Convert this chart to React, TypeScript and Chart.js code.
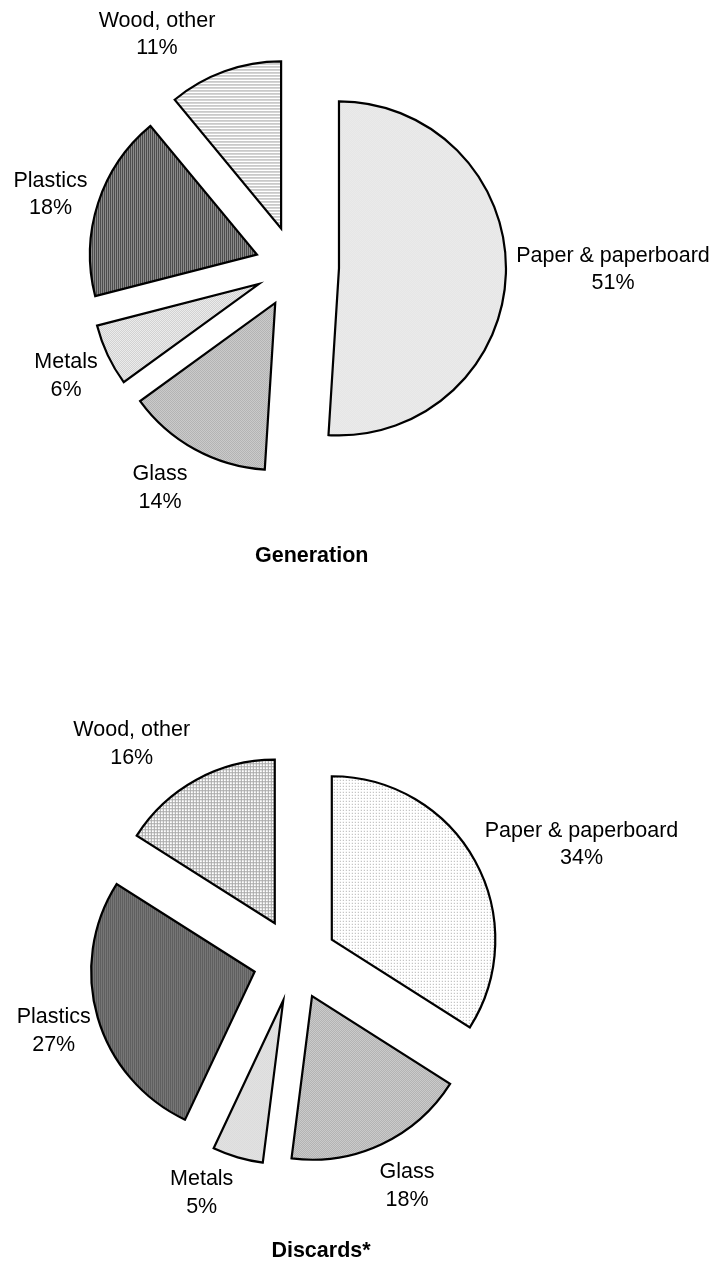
import React, { useEffect, useRef } from "react";
import { Chart, registerables } from "chart.js";

Chart.register(...registerables);

// ---------------- data ----------------
const CATEGORIES = ["Paper & paperboard", "Glass", "Metals", "Plastics", "Wood, other"];
const GENERATION = [51, 14, 6, 18, 11];
const DISCARDS = [34, 18, 5, 27, 16];
const TITLES = ["Generation", "Discards*"];

// ---------------- layout / style ----------------
const FONT = '"Liberation Sans", Arial, Helvetica, sans-serif';
const FONT_SIZE = 21.5;
const LINE_H = 27.5;

type PieLayout = {
  top: number;
  height: number;
  radius: number;
  padding: { left: number; right: number; top: number; bottom: number };
  explode: number[]; // px the slice is pulled out
  labelOffsets: number[][]; // label (center x, first baseline) relative to pie centre
  titleOffset: number[];
  patterns: string[];
};

const TOP_LAYOUT: PieLayout = {
  top: 0,
  height: 620,
  radius: 167,
  padding: { left: 0, right: 128, top: 0, bottom: 86 },
  explode: [44, 41, 40, 40, 41],
  labelOffsets: [
    [318, -5.3],
    [-135, 213],
    [-229, 101],
    [-244.5, -80.3],
    [-138, -240.3],
  ],
  titleOffset: [16.7, 294.7],
  patterns: ["paperA", "glass", "metals", "plastics", "woodA"],
};

const BOTTOM_LAYOUT: PieLayout = {
  top: 620,
  height: 648,
  radius: 163.5,
  padding: { left: 0, right: 128, top: 32, bottom: 0 },
  explode: [42, 40, 42, 42, 42],
  labelOffsets: [
    [286.5, -123.3],
    [112, 218.3],
    [-93.3, 225],
    [-241.3, 63],
    [-163.3, -224],
  ],
  titleOffset: [26, 297],
  patterns: ["paperB", "glass", "metals", "plastics", "woodB"],
};

function makePattern(size: number, bg: string, paint: (g: CanvasRenderingContext2D) => void) {
  const c = document.createElement("canvas");
  c.width = size;
  c.height = size;
  const g = c.getContext("2d")!;
  g.fillStyle = bg;
  g.fillRect(0, 0, size, size);
  paint(g);
  return g.createPattern(c, "repeat")!;
}

function buildPatterns(): Record<string, CanvasPattern> {
  const checker = (a: string, b: string) =>
    makePattern(2, a, (g) => {
      g.fillStyle = b;
      g.fillRect(0, 0, 1, 1);
      g.fillRect(1, 1, 1, 1);
    });
  return {
    paperA: checker("#fbfbfb", "#d6d6d6"),
    paperB: makePattern(3, "#ffffff", (g) => {
      g.fillStyle = "#a8a8a8";
      g.fillRect(0, 0, 1, 1);
    }),
    glass: checker("#dadada", "#a4a4a4"),
    metals: checker("#f6f6f6", "#c8c8c8"),
    plastics: makePattern(2, "#8a8a8a", (g) => {
      g.fillStyle = "#4c4c4c";
      g.fillRect(0, 0, 1, 2);
    }),
    woodA: makePattern(3, "#ffffff", (g) => {
      g.fillStyle = "#a0a0a0";
      g.fillRect(0, 0, 3, 1);
    }),
    woodB: makePattern(3, "#ffffff", (g) => {
      g.fillStyle = "#a8a8a8";
      g.fillRect(0, 0, 3, 1);
      g.fillRect(0, 0, 1, 3);
    }),
  };
}

function PieChart({ values, title, layout }: { values: number[]; title: string; layout: PieLayout }) {
  const ref = useRef<HTMLCanvasElement | null>(null);

  useEffect(() => {
    if (!ref.current) return;
    const pats = buildPatterns();
    const R = layout.radius;

    // Chart.js enlarges and narrows exploded arcs; bring them back to the true radius.
    const explodeFix = {
      id: "explodeFix",
      afterDatasetUpdate(chart: any, args: any) {
        const meta = chart.getDatasetMeta(args.index);
        meta.data.forEach((el: any) => {
          const off = (el.options.offset || 0) / 4;
          const fix = 1 - Math.sin(Math.min(Math.PI, el.circumference || 0));
          const k = off * fix;
          el.outerRadius = R - k;
          const d = k / (2 * Math.PI * R);
          el.startAngle -= d;
          el.endAngle += d;
        });
      },
    };

    const labelPlugin = {
      id: "sliceLabels",
      afterDraw(chart: any) {
        const ctx = chart.ctx as CanvasRenderingContext2D;
        const meta = chart.getDatasetMeta(0);
        const cx = meta.data[0].x;
        const cy = meta.data[0].y;
        ctx.save();
        ctx.fillStyle = "#000";
        ctx.textAlign = "center";
        ctx.textBaseline = "alphabetic";
        ctx.font = `${FONT_SIZE}px ${FONT}`;
        meta.data.forEach((_el: any, i: number) => {
          const [dx, dy] = layout.labelOffsets[i];
          ctx.fillText(CATEGORIES[i], cx + dx, cy + dy);
          ctx.fillText(`${values[i]}%`, cx + dx, cy + dy + LINE_H);
        });
        ctx.font = `bold ${FONT_SIZE}px ${FONT}`;
        ctx.fillText(title, cx + layout.titleOffset[0], cy + layout.titleOffset[1]);
        ctx.restore();
      },
    };

    const chart = new Chart(ref.current, {
      type: "pie",
      data: {
        labels: CATEGORIES,
        datasets: [
          {
            data: values,
            backgroundColor: layout.patterns.map((p) => pats[p]),
            borderColor: "#000000",
            borderWidth: 2.2,
            borderJoinStyle: "miter",
            offset: layout.explode.map((e) => e * 4),
            radius: R,
          } as any,
        ],
      },
      options: {
        responsive: false,
        animation: false,
        events: [],
        radius: R,
        layout: { padding: layout.padding },
        plugins: {
          legend: { display: false },
          title: { display: false },
          tooltip: { enabled: false },
        },
      } as any,
      plugins: [explodeFix, labelPlugin],
    });
    return () => chart.destroy();
  }, [values, title, layout]);

  return (
    <canvas
      ref={ref}
      width={718}
      height={layout.height}
      style={{ position: "absolute", left: 0, top: layout.top, width: 718, height: layout.height, display: "block" }}
    />
  );
}

export default function App() {
  return (
    <div style={{ position: "absolute", left: 0, top: 0, width: 718, height: 1268, background: "#ffffff", overflow: "hidden" }}>
      <PieChart values={GENERATION} title={TITLES[0]} layout={TOP_LAYOUT} />
      <PieChart values={DISCARDS} title={TITLES[1]} layout={BOTTOM_LAYOUT} />
    </div>
  );
}
